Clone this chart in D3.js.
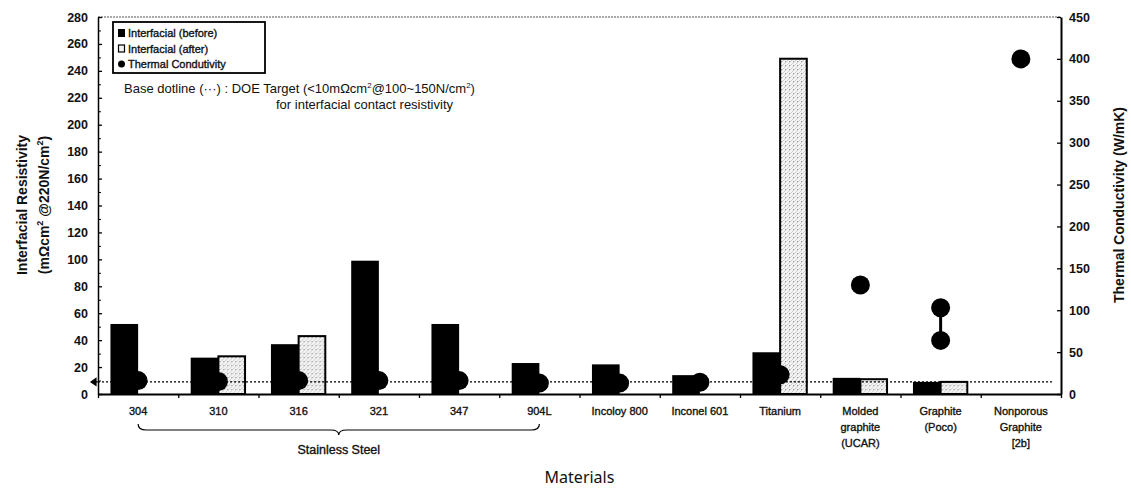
<!DOCTYPE html>
<html>
<head>
<meta charset="utf-8">
<script src="https://cdn.jsdelivr.net/npm/d3@7"></script>
<style>
  body { margin: 0; background: #fff; }
  svg { display: block; font-family: "Liberation Sans", Arial, sans-serif; }
  .heavy { stroke: #111; stroke-width: 0.35px; }
</style>
</head>
<body>
<div id="viz"></div>
<script>
//Datos
const categories = ['304', '310', '316', '321', '347', '904L', 'Incoloy 800', 'Inconel 601', 'Titanium', 'Molded graphite (UCAR)', 'Graphite (Poco)', 'Nonporous Graphite [2b]'];
const categoryLines = [['304'], ['310'], ['316'], ['321'], ['347'], ['904L'], ['Incoloy 800'], ['Inconel 601'], ['Titanium'], ['Molded', 'graphite', '(UCAR)'], ['Graphite', '(Poco)'], ['Nonporous', 'Graphite', '[2b]']];
const before = [52, 27, 37, 99, 52, 23, 22, 14, 31, 12, 9, null];
const after = [null, 28, 43, null, null, null, null, null, 249, 11, 9, null];
const thermal = [16, 15, 16, 16, 16, 13, 13, 14, 23, 130, 103, 400];
const thermalLow = [null, null, null, null, null, null, null, null, null, null, 64, null];
const doeTarget = 9;
const leftTicks = d3.range(0, 281, 20);
const rightTicks = d3.range(0, 451, 50);
const legendItems = ['Interfacial (before)', 'Interfacial (after)', 'Thermal Condutivity'];

const W = 1131, H = 489;
const margin = {top: 17, right: 70, bottom: 95, left: 98};
const x0Left = margin.left, x0Right = W - margin.right, yTop = margin.top, yBottom = H - margin.bottom;

let svg = d3.select('#viz').append('svg')
    .attr('width', W)
    .attr('height', H);

let defs = svg.append('defs');
let pat = defs.append('pattern')
    .attr('id', 'stipple')
    .attr('patternUnits', 'userSpaceOnUse')
    .attr('width', 4).attr('height', 4);
pat.append('rect').attr('width', 4).attr('height', 4).attr('fill', '#f4f4f4');
pat.append('path').attr('d', 'M0,4 L4,0').attr('stroke', '#c4c4c4').attr('stroke-width', 0.8);
pat.append('rect').attr('x', 1).attr('y', 1).attr('width', 1).attr('height', 1).attr('fill', '#9a9a9a');

//Escalas
let x = d3.scaleBand()
    .domain(categories)
    .range([x0Left, x0Right])
    .padding(0);

let xSub = d3.scaleBand()
    .domain(['before', 'after'])
    .range([0, x.bandwidth()])
    .paddingInner(0)
    .paddingOuter(0.45);

let y = d3.scaleLinear().domain([0, 280]).range([yBottom, yTop]);
let yR = d3.scaleLinear().domain([0, 450]).range([yBottom, yTop]);

//Borde superior punteado
svg.append('line')
    .attr('x1', x0Left).attr('x2', x0Right)
    .attr('y1', yTop).attr('y2', yTop)
    .attr('stroke', '#555').attr('stroke-width', 1)
    .attr('stroke-dasharray', '2,1');

//Barras
let groups = svg.selectAll('.grp')
    .data(categories)
    .enter().append('g')
    .attr('class', 'grp')
    .attr('transform', d => 'translate(' + x(d) + ',0)');

groups.filter((d, i) => before[i] != null)
    .append('rect')
    .attr('x', xSub('before'))
    .attr('width', xSub.bandwidth())
    .attr('y', (d) => y(before[categories.indexOf(d)]))
    .attr('height', (d) => yBottom - y(before[categories.indexOf(d)]))
    .attr('fill', '#000');

groups.filter((d, i) => after[i] != null)
    .append('rect')
    .attr('x', xSub('after'))
    .attr('width', xSub.bandwidth() - 1)
    .attr('y', (d) => y(after[categories.indexOf(d)]))
    .attr('height', (d) => yBottom - y(after[categories.indexOf(d)]))
    .attr('fill', 'url(#stipple)')
    .attr('stroke', '#000')
    .attr('stroke-width', 2);

//Línea DOE
svg.append('line')
    .attr('x1', x0Left).attr('x2', x0Right - 8)
    .attr('y1', y(doeTarget)).attr('y2', y(doeTarget))
    .attr('stroke', '#000').attr('stroke-width', 1.2)
    .attr('stroke-dasharray', '2,2');

svg.append('path')
    .attr('d', 'M' + (x0Left - 7) + ',' + y(doeTarget) + ' l5,-3.5 l0,7 z M' + (x0Left - 3) + ',' + y(doeTarget) + ' L' + x0Left + ',' + y(doeTarget))
    .attr('fill', '#000').attr('stroke', '#000').attr('stroke-width', 1.2);

//Conductividad térmica
let cx = (c) => x(c) + x.bandwidth() / 2;

svg.selectAll('.range')
    .data(categories.filter((c, i) => thermalLow[i] != null))
    .enter().append('line')
    .attr('x1', cx).attr('x2', cx)
    .attr('y1', c => yR(thermal[categories.indexOf(c)]))
    .attr('y2', c => yR(thermalLow[categories.indexOf(c)]))
    .attr('stroke', '#000').attr('stroke-width', 3);

svg.selectAll('.tc')
    .data(categories)
    .enter().append('circle')
    .attr('cx', cx)
    .attr('cy', (c, i) => yR(thermal[i]))
    .attr('r', 9.5)
    .attr('fill', '#000');

svg.selectAll('.tclow')
    .data(categories.filter((c, i) => thermalLow[i] != null))
    .enter().append('circle')
    .attr('cx', cx)
    .attr('cy', c => yR(thermalLow[categories.indexOf(c)]))
    .attr('r', 9.5)
    .attr('fill', '#000');

//Ejes
let leftAxis = svg.append('g')
    .attr('transform', 'translate(' + x0Left + ',0)')
    .call(d3.axisLeft(y).tickValues(leftTicks).tickSizeInner(-4).tickSizeOuter(0).tickPadding(10));
svg.append('g')
    .attr('transform', 'translate(' + x0Left + ',0)')
    .call(d3.axisLeft(y).tickValues(d3.range(10, 280, 20)).tickFormat('').tickSizeInner(-3).tickSizeOuter(0))
    .select('.domain').remove();

let rightAxis = svg.append('g')
    .attr('transform', 'translate(' + x0Right + ',0)')
    .call(d3.axisRight(yR).tickValues(rightTicks).tickSizeInner(-4).tickSizeOuter(0).tickPadding(8));

let xIdx = d3.scaleLinear().domain([0, categories.length]).range([x0Left, x0Right]);
let bottomAxis = svg.append('g')
    .attr('transform', 'translate(0,' + yBottom + ')')
    .call(d3.axisBottom(xIdx).tickValues(d3.range(0, categories.length + 1)).tickFormat('').tickSizeInner(4).tickSizeOuter(0));

[leftAxis, rightAxis, bottomAxis].forEach(function(g) {
    g.selectAll('text').attr('font-size', 12.5).attr('font-weight', 'bold').attr('fill', '#111')
        .attr('font-family', '"Liberation Sans Narrow", "Liberation Sans", Arial, sans-serif');
    g.selectAll('line').attr('stroke', '#000').attr('stroke-width', 1.3);
});
leftAxis.select('.domain').attr('stroke-width', 1.5);
rightAxis.select('.domain').attr('stroke-width', 2);
bottomAxis.select('.domain').attr('stroke-width', 2.2);

//Etiquetas de categorías
let catLabels = svg.selectAll('.cat')
    .data(categories)
    .enter().append('text')
    .attr('class', 'heavy')
    .attr('text-anchor', 'middle')
    .attr('font-size', 11)
    .attr('fill', '#111')
    .attr('x', cx)
    .attr('y', 415);
catLabels.selectAll('tspan')
    .data((c, i) => categoryLines[i])
    .enter().append('tspan')
    .attr('x', function() { return this.parentNode.getAttribute('x'); })
    .attr('dy', (d, j) => j === 0 ? 0 : 16)
    .text(d => d);

//Llave Stainless Steel
let bx1 = cx('304'), bx2 = cx('904L'), bm = (bx1 + bx2) / 2;
svg.append('path')
    .attr('d', 'M' + bx1 + ',424 Q' + bx1 + ',430 ' + (bx1 + 8) + ',430 L' + (bm - 8) + ',430 Q' + bm + ',430 ' + bm + ',435 Q' + bm + ',430 ' + (bm + 8) + ',430 L' + (bx2 - 8) + ',430 Q' + bx2 + ',430 ' + bx2 + ',424')
    .attr('fill', 'none').attr('stroke', '#000').attr('stroke-width', 1.2);
svg.append('text')
    .attr('class', 'heavy')
    .attr('x', bm).attr('y', 454)
    .attr('text-anchor', 'middle')
    .attr('font-size', 12.5)
    .attr('fill', '#111')
    .text('Stainless Steel');

//Títulos de ejes
svg.append('text')
    .attr('x', (x0Left + x0Right) / 2).attr('y', 483)
    .attr('text-anchor', 'middle')
    .attr('font-family', '"Noto Sans", sans-serif')
    .attr('font-size', 16)
    .attr('fill', '#111')
    .text('Materials');

let lt = svg.append('text')
    .attr('transform', 'translate(27,205) rotate(-90)')
    .attr('text-anchor', 'middle')
    .attr('font-size', 14).attr('font-weight', 'bold').attr('fill', '#111');
lt.append('tspan').attr('x', 0).attr('y', 0).text('Interfacial Resistivity');
let lt2 = lt.append('tspan').attr('x', 0).attr('y', 22);
lt2.append('tspan').text('(mΩcm');
lt2.append('tspan').attr('dy', -6).attr('font-size', 9).text('2');
lt2.append('tspan').attr('dy', 6).text(' @220N/cm');
lt2.append('tspan').attr('dy', -6).attr('font-size', 9).text('2');
lt2.append('tspan').attr('dy', 6).text(')');

svg.append('text')
    .attr('transform', 'translate(1124,205) rotate(-90)')
    .attr('text-anchor', 'middle')
    .attr('font-size', 14).attr('font-weight', 'bold').attr('fill', '#111')
    .text('Thermal Conductivity (W/mK)');

//Leyenda
let legend = svg.append('g').attr('transform', 'translate(113,22)');
legend.append('rect')
    .attr('width', 152).attr('height', 51)
    .attr('fill', '#fff').attr('stroke', '#000').attr('stroke-width', 1.8);
let li = legend.selectAll('.li')
    .data(legendItems)
    .enter().append('g')
    .attr('transform', (d, i) => 'translate(5,' + (11 + i * 15.5) + ')');
li.each(function(d, i) {
    let g = d3.select(this);
    if (i === 0) {
        g.append('rect').attr('x', 0).attr('y', -4).attr('width', 7).attr('height', 8).attr('fill', '#000');
    } else if (i === 1) {
        g.append('rect').attr('x', 0.5).attr('y', -3.5).attr('width', 6).attr('height', 7).attr('fill', '#f2f2f2').attr('stroke', '#000').attr('stroke-width', 1.2);
    } else {
        g.append('circle').attr('cx', 3.5).attr('cy', 0).attr('r', 3.5).attr('fill', '#000');
    }
    g.append('text').attr('class', 'heavy').attr('x', 10).attr('y', 4).attr('font-size', 11).attr('fill', '#111').text(d);
});

//Nota DOE
let note = svg.append('text')
    .attr('x', 124).attr('y', 93)
    .attr('font-size', 13).attr('fill', '#111');
note.append('tspan').text('Base dotline (···) : DOE Target (<10mΩcm');
note.append('tspan').attr('dy', -5).attr('font-size', 8).text('2');
note.append('tspan').attr('dy', 5).text('@100~150N/cm');
note.append('tspan').attr('dy', -5).attr('font-size', 8).text('2');
note.append('tspan').attr('dy', 5).text(')');
svg.append('text')
    .attr('x', 276).attr('y', 109)
    .attr('font-size', 13).attr('fill', '#111')
    .text('for interfacial contact resistivity');
</script>
</body>
</html>
